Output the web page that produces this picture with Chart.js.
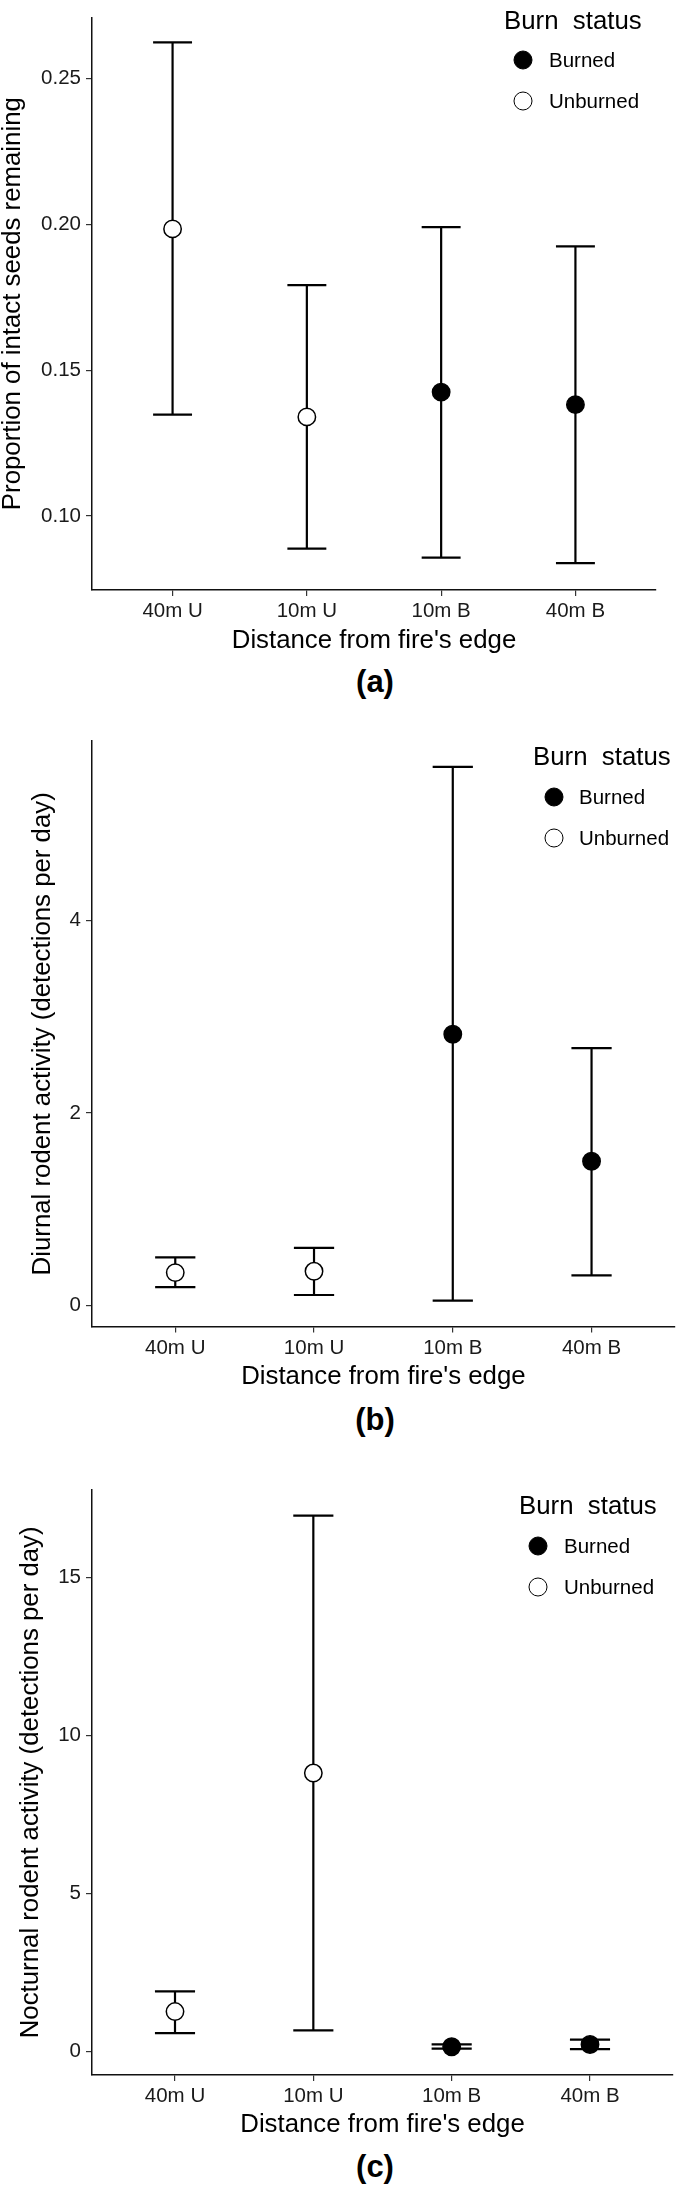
<!DOCTYPE html>
<html>
<head>
<meta charset="utf-8">
<script src="https://cdn.jsdelivr.net/npm/chart.js@4.4.1/dist/chart.umd.min.js"></script>
<style>
html,body{margin:0;padding:0;background:#fff;}
#page{position:relative;width:685px;height:2185px;overflow:hidden;background:#fff;font-family:"Liberation Sans",Arial,Helvetica,sans-serif;color:#000;}
canvas{position:absolute;left:0;}
.t{position:absolute;line-height:1;white-space:pre;transform:translateY(-50%);}
.lt{font-size:25.8px;}
.ll{font-size:20.5px;}
.mk{position:absolute;width:19px;height:19px;box-sizing:border-box;border:1.5px solid #000;border-radius:50%;transform:translate(-50%,-50%);}
.pl{position:absolute;font-weight:bold;font-size:31px;line-height:1;transform:translate(-50%,-50%);white-space:pre;}
</style>
</head>
<body>
<div id="page"></div>
<script>
// ---------- data ----------
const categories = ["40m U", "10m U", "10m B", "40m B"];
const burnStatus = ["Unburned", "Unburned", "Burned", "Burned"];
const legendTitle = "Burn  status";
const legendLabels = ["Burned", "Unburned"];
const xTitle = "Distance from fire's edge";
const panelLabels = ["(a)", "(b)", "(c)"];

const seedTitle = "Proportion of intact seeds remaining";
const seedMean  = [0.1985, 0.1340, 0.1425, 0.1382];
const seedLower = [0.1348, 0.0888, 0.0857, 0.0838];
const seedUpper = [0.2625, 0.1792, 0.1991, 0.1925];
const seedTicks = [0.10, 0.15, 0.20, 0.25];

const diurnalTitle = "Diurnal rodent activity (detections per day)";
const diurnalMean  = [0.343, 0.357, 2.816, 1.498];
const diurnalLower = [0.193, 0.111, 0.053, 0.314];
const diurnalUpper = [0.502, 0.599, 5.589, 2.671];
const diurnalTicks = [0, 2, 4];

const nocturnalTitle = "Nocturnal rodent activity (detections per day)";
const nocturnalMean  = [1.261, 8.813, 0.148, 0.220];
const nocturnalLower = [0.579, 0.668, 0.090, 0.074];
const nocturnalUpper = [1.899, 16.96, 0.220, 0.370];
const nocturnalTicks = [0, 5, 10, 15];

// ---------- layout / style ----------
const FONT = '"Liberation Sans", Arial, Helvetica, sans-serif';
const CAP_HALF = 0.145;
const panels = [
  {title: seedTitle, mean: seedMean, lower: seedLower, upper: seedUpper, ticks: seedTicks, dec: 2,
   yMin: 0.0746, yMax: 0.2711, top: 0, height: 656, chartTop: 3.7, axisY: 590, right: 656, yTitlePad: 0.1,
   legend: {titleX: 504, titleY: 20.5, markX: 523, labelX: 549, y1: 60, y2: 101}, label: {x: 375, y: 681}},
  {title: diurnalTitle, mean: diurnalMean, lower: diurnalLower, upper: diurnalUpper, ticks: diurnalTicks, dec: 0,
   yMin: -0.217, yMax: 5.858, top: 700, height: 692, chartTop: 741, axisY: 1326.6, right: 684, yTitlePad: 29.7,
   legend: {titleX: 533, titleY: 757.2, markX: 553.5, labelX: 579, y1: 796.8, y2: 837.8}, label: {x: 375, y: 1419.3}},
  {title: nocturnalTitle, mean: nocturnalMean, lower: nocturnalLower, upper: nocturnalUpper, ticks: nocturnalTicks, dec: 0,
   yMin: -0.744, yMax: 17.78, top: 1440, height: 700, chartTop: 1489.8, axisY: 2074.9, right: 673, yTitlePad: 17.7,
   legend: {titleX: 519, titleY: 1506, markX: 538, labelX: 564, y1: 1546, y2: 1586.5}, label: {x: 375, y: 2165.8}}
];

const page = document.getElementById('page');

function addText(cls, txt, x, y) {
  const d = document.createElement('div');
  d.className = cls;
  d.textContent = txt;
  d.style.left = x + 'px';
  d.style.top = y + 'px';
  page.appendChild(d);
  return d;
}

panels.forEach((p, pi) => {
  const cv = document.createElement('canvas');
  cv.width = 685; cv.height = p.height;
  cv.style.top = p.top + 'px';
  cv.style.width = '685px'; cv.style.height = p.height + 'px';
  page.appendChild(cv);

  const datasets = [];
  ["Burned", "Unburned"].forEach(st => {
    const pts = [];
    categories.forEach((c, i) => { if (burnStatus[i] === st) pts.push({x: i + 1, y: p.mean[i]}); });
    datasets.push({
      label: st, data: pts, showLine: false, order: 0, clip: false,
      pointRadius: 8.7, pointHoverRadius: 8.7, pointBorderWidth: 1.5, pointBorderColor: '#000',
      pointBackgroundColor: st === "Burned" ? '#000' : '#fff'
    });
  });
  categories.forEach((c, i) => {
    const x = i + 1;
    const segs = [
      [{x: x, y: p.lower[i]}, {x: x, y: p.upper[i]}],
      [{x: x - CAP_HALF, y: p.upper[i]}, {x: x + CAP_HALF, y: p.upper[i]}],
      [{x: x - CAP_HALF, y: p.lower[i]}, {x: x + CAP_HALF, y: p.lower[i]}]
    ];
    segs.forEach(s => datasets.push({
      data: s, showLine: true, order: 1, pointRadius: 0, pointHoverRadius: 0,
      borderColor: '#000', borderWidth: 2.2, borderCapStyle: 'butt', fill: false, clip: false
    }));
  });

  const xH = (p.top + p.height) - p.axisY;
  new Chart(cv, {
    type: 'scatter',
    data: {datasets},
    options: {
      responsive: false, animation: false, devicePixelRatio: 1,
      layout: {padding: {top: p.chartTop - p.top, right: 685 - p.right, left: 0, bottom: 0}},
      plugins: {legend: {display: false}, tooltip: {enabled: false}},
      events: [],
      scales: {
        x: {
          type: 'linear', min: 0.4, max: 4.6,
          afterBuildTicks: s => { s.ticks = categories.map((c, i) => ({value: i + 1})); },
          afterFit: s => { s.height = xH; },
          ticks: {
            callback: v => categories[Math.round(v) - 1],
            autoSkip: false, maxRotation: 0, minRotation: 0, padding: 3,
            color: '#1a1a1a', font: {family: FONT, size: 20.5, lineHeight: 1.2}
          },
          grid: {drawOnChartArea: false, drawTicks: true, tickLength: 6, color: '#333', lineWidth: 1.2},
          border: {display: true, color: '#111', width: 1.5},
          title: {display: true, text: xTitle, color: '#000', padding: {top: 0, bottom: 0},
                  font: {family: FONT, size: 25.8, lineHeight: 1.2}}
        },
        y: {
          type: 'linear', min: p.yMin, max: p.yMax,
          afterBuildTicks: s => { s.ticks = p.ticks.map(v => ({value: v})); },
          afterFit: s => { s.width = 92; },
          ticks: {
            callback: v => Number(v).toFixed(p.dec),
            padding: 5, color: '#1a1a1a', font: {family: FONT, size: 20.5, lineHeight: 1.2}
          },
          grid: {drawOnChartArea: false, drawTicks: true, tickLength: 6, color: '#333', lineWidth: 1.2},
          border: {display: true, color: '#111', width: 1.5},
          title: {display: true, text: p.title, color: '#000', padding: {top: p.yTitlePad, bottom: 0},
                  font: {family: FONT, size: 25.8, lineHeight: 1}}
        }
      }
    }
  });

  const L = p.legend;
  addText('t lt', legendTitle, L.titleX, L.titleY);
  [L.y1, L.y2].forEach((yy, k) => {
    const m = document.createElement('div');
    m.className = 'mk';
    m.style.left = L.markX + 'px';
    m.style.top = yy + 'px';
    m.style.background = legendLabels[k] === 'Burned' ? '#000' : '#fff';
    page.appendChild(m);
    addText('t ll', legendLabels[k], L.labelX, yy);
  });
  addText('pl', panelLabels[pi], p.label.x, p.label.y);
});
</script>
</body>
</html>
